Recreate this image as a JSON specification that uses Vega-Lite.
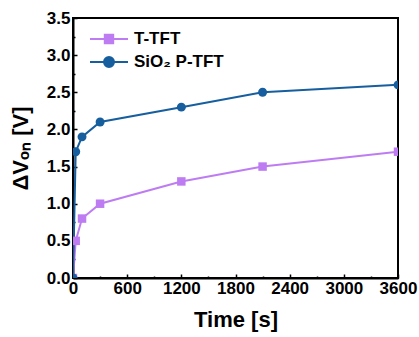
{
  "$schema": "https://vega.github.io/schema/vega-lite/v6.json",
  "width": 325,
  "height": 260,
  "autosize": "none",
  "padding": {"left": 73, "top": 18, "right": 21, "bottom": 59},
  "background": "#ffffff",
  "data": {
    "values": [
      {"series": "T-TFT", "time": 0, "dv": 0.0},
      {"series": "T-TFT", "time": 30, "dv": 0.5},
      {"series": "T-TFT", "time": 100, "dv": 0.8},
      {"series": "T-TFT", "time": 300, "dv": 1.0},
      {"series": "T-TFT", "time": 1200, "dv": 1.3},
      {"series": "T-TFT", "time": 2100, "dv": 1.5},
      {"series": "T-TFT", "time": 3600, "dv": 1.7},
      {"series": "SiO₂ P-TFT", "time": 0, "dv": 0.0},
      {"series": "SiO₂ P-TFT", "time": 30, "dv": 1.7},
      {"series": "SiO₂ P-TFT", "time": 100, "dv": 1.9},
      {"series": "SiO₂ P-TFT", "time": 300, "dv": 2.1},
      {"series": "SiO₂ P-TFT", "time": 1200, "dv": 2.3},
      {"series": "SiO₂ P-TFT", "time": 2100, "dv": 2.5},
      {"series": "SiO₂ P-TFT", "time": 3600, "dv": 2.6}
    ]
  },
  "layer": [
    {
      "encoding": {
        "x": {
          "field": "time", "type": "quantitative",
          "scale": {"domain": [0, 3600], "nice": false, "zero": false},
          "axis": {
            "orient": "bottom", "title": "Time [s]",
            "values": [0, 600, 1200, 1800, 2400, 3000, 3600],
            "format": "d", "labelPadding": 6, "titlePadding": 13, "labelFlush": false
          }
        },
        "y": {
          "field": "dv", "type": "quantitative",
          "scale": {"domain": [0, 3.5], "nice": false, "zero": false},
          "axis": {
            "orient": "left", "title": "ΔVₒₙ [V]",
            "values": [0, 0.5, 1, 1.5, 2, 2.5, 3, 3.5],
            "format": ".1f", "labelPadding": 7, "titlePadding": 14, "labelFlush": false
          }
        },
        "color": {
          "field": "series", "type": "nominal",
          "scale": {"domain": ["T-TFT", "SiO₂ P-TFT"], "range": ["#BE7CF2", "#165E9E"]},
          "legend": {
            "orient": "none", "legendX": 25, "legendY": 10, "title": null,
            "labelFont": "Liberation Sans", "labelFontWeight": "bold", "labelFontSize": 17,
            "labelColor": "#000", "labelOffset": 14, "rowPadding": 3,
            "symbolSize": 400, "symbolStrokeWidth": 2,
            "encode": {
              "symbols": {
                "update": {
                  "shape": {"signal": "datum.value === 'T-TFT' ? 'M-1.9,0H1.9M-0.42,-0.42H0.42V0.42H-0.42Z' : 'M-1.9,0H1.9M0.5,0A0.5,0.5,0,1,1,-0.5,0A0.5,0.5,0,1,1,0.5,0Z'"},
                  "fill": {"signal": "datum.value === 'T-TFT' ? '#BE7CF2' : '#165E9E'"},
                  "stroke": {"signal": "datum.value === 'T-TFT' ? '#BE7CF2' : '#165E9E'"},
                  "strokeWidth": {"value": 2},
                  "opacity": {"value": 1}
                }
              }
            }
          }
        }
      },
      "layer": [
        {"mark": {"type": "line", "strokeWidth": 2, "clip": true}},
        {
          "transform": [{"filter": "datum.series === 'T-TFT'"}],
          "mark": {"type": "point", "shape": "square", "filled": true, "opacity": 1, "size": 72, "clip": true}
        },
        {
          "transform": [{"filter": "datum.series !== 'T-TFT'"}],
          "mark": {"type": "point", "shape": "circle", "filled": true, "opacity": 1, "size": 80, "clip": true}
        }
      ]
    },
    {
      "mark": {"type": "point", "opacity": 0},
      "encoding": {
        "x": {
          "field": "time", "type": "quantitative",
          "scale": {"domain": [0, 3600], "nice": false, "zero": false},
          "axis": {
            "orient": "bottom", "title": null, "labels": false, "domain": false,
            "tickSize": -2, "values": [300, 900, 1500, 2100, 2700, 3300]
          }
        },
        "y": {
          "field": "dv", "type": "quantitative",
          "scale": {"domain": [0, 3.5], "nice": false, "zero": false},
          "axis": {
            "orient": "left", "title": null, "labels": false, "domain": false,
            "tickSize": -2, "values": [0.25, 0.75, 1.25, 1.75, 2.25, 2.75, 3.25]
          }
        }
      }
    }
  ],
  "resolve": {"scale": {"x": "independent", "y": "independent"}},
  "config": {
    "view": {"stroke": "#000", "strokeWidth": 2},
    "axis": {
      "labelFont": "Liberation Sans", "labelFontWeight": "bold", "labelFontSize": 17, "labelColor": "#000",
      "titleFont": "Liberation Sans", "titleFontWeight": "bold", "titleFontSize": 22, "titleColor": "#000",
      "domainColor": "#000", "domainWidth": 2, "tickColor": "#000", "tickWidth": 1.5, "tickSize": -4,
      "grid": false
    }
  }
}
